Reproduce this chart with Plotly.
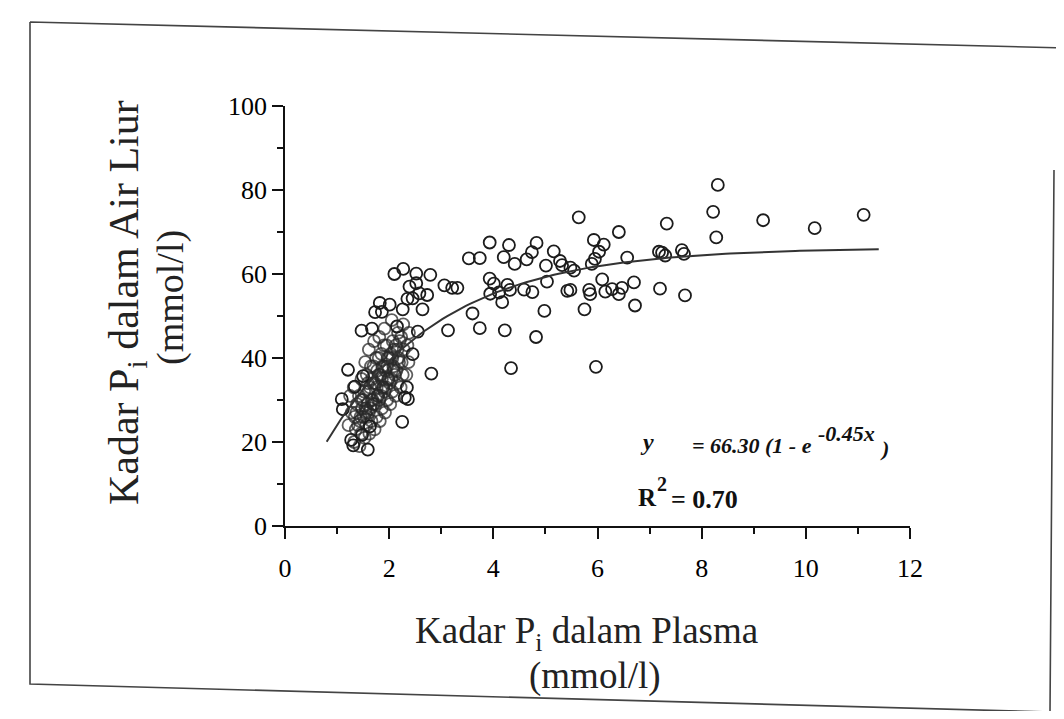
import plotly.graph_objects as go
import math

# ---------------- data ----------------
# individually visible open circles
x_points = [3.93, 4.30, 4.83, 3.53, 3.74, 4.20, 4.41, 4.64, 4.74, 5.16, 5.01, 5.28,
            2.79, 3.06, 3.21, 3.31, 3.93, 4.01, 3.94, 4.11, 4.17, 4.27, 4.32, 4.59,
            4.75, 5.03, 5.42, 2.73, 3.60, 3.13, 3.74, 4.22, 4.82, 4.98, 2.81, 4.34,
            5.64, 6.41, 7.33, 5.93, 6.12, 6.03, 5.95, 5.89, 5.32, 5.48, 5.55, 6.57,
            7.18, 7.24, 7.30, 7.62, 7.66, 6.09, 5.48, 5.84, 5.86, 6.15, 6.28, 6.41,
            6.47, 6.70, 7.20, 7.68, 5.75, 6.72, 5.97,
            8.31, 8.22, 8.28, 9.18, 10.17, 11.11,
            2.10, 2.27, 2.52, 2.39, 2.52, 2.58, 2.64, 2.35, 2.45, 1.82, 2.01, 1.73,
            1.86, 2.26, 1.47, 1.67, 2.15, 2.55, 2.45, 1.21, 1.50, 1.34, 1.09, 1.11,
            2.25, 1.31, 1.59, 2.30, 2.36, 1.63, 1.48, 2.34, 1.27]
y_points = [67.5, 66.9, 67.4, 63.7, 63.8, 64.0, 62.4, 63.5, 65.2, 65.4, 62.0, 63.1,
            59.8, 57.3, 56.7, 56.7, 58.9, 57.7, 55.3, 55.6, 53.3, 57.4, 56.2, 56.3,
            55.7, 58.2, 56.0, 55.0, 50.6, 46.6, 47.1, 46.6, 45.0, 51.2, 36.3, 37.6,
            73.5, 70.0, 72.0, 68.1, 67.0, 65.3, 63.6, 62.4, 62.1, 61.5, 60.8, 63.9,
            65.3, 65.1, 64.4, 65.7, 64.8, 58.7, 56.2, 56.2, 55.2, 55.8, 56.4, 55.2,
            56.7, 58.0, 56.5, 54.9, 51.6, 52.5, 37.9,
            81.2, 74.8, 68.7, 72.8, 70.9, 74.1,
            60.0, 61.2, 60.1, 57.0, 57.8, 55.4, 51.6, 54.1, 54.2, 53.1, 52.7, 50.9,
            51.0, 51.6, 46.5, 47.0, 47.5, 46.3, 40.9, 37.2, 35.7, 33.2, 30.2, 27.8,
            24.8, 19.2, 18.2, 30.6, 30.2, 23.7, 21.7, 33.0, 20.5]

# densely overlapping circles (dark mass at low plasma values)
x_dense = [1.22, 1.28, 1.25,
           1.33, 1.36, 1.34, 1.38, 1.32,
           1.43, 1.46, 1.44, 1.48, 1.42, 1.47,
           1.53, 1.56, 1.55, 1.58, 1.52, 1.57, 1.54,
           1.62, 1.66, 1.64, 1.68, 1.63, 1.67, 1.65, 1.61,
           1.72, 1.76, 1.74, 1.78, 1.73, 1.77, 1.75, 1.71,
           1.82, 1.86, 1.84, 1.88, 1.83, 1.87, 1.85, 1.81,
           1.92, 1.96, 1.94, 1.98, 1.93, 1.97, 1.95, 1.91,
           2.02, 2.06, 2.04, 2.08, 2.03, 2.07, 2.05,
           2.12, 2.16, 2.14, 2.18, 2.13, 2.17,
           2.22, 2.26, 2.24, 2.28, 2.23, 2.27,
           2.33, 2.37, 2.35, 2.38,
           1.50, 1.60, 1.70, 1.80, 1.90, 2.00, 2.10, 2.20,
           1.58, 1.69, 1.79, 1.89, 1.99, 2.09, 2.19,
           1.45, 1.55, 1.66, 1.76, 1.86, 1.96, 2.06, 2.16,
           1.40, 1.51, 1.61, 1.71, 1.81, 1.91, 2.01, 2.11,
           1.37, 1.47, 1.59, 1.70, 1.80, 1.90]
y_dense = [24, 27, 31,
           20, 23, 26, 29, 33,
           19, 22, 25, 28, 31, 35,
           21, 24, 27, 29, 32, 36, 39,
           22, 25, 28, 30, 33, 35, 38, 42,
           23, 26, 29, 31, 34, 37, 40, 44,
           25, 28, 31, 33, 36, 38, 41, 45,
           27, 30, 33, 35, 37, 40, 43, 47,
           29, 32, 35, 38, 41, 44, 49,
           31, 34, 37, 40, 43, 46,
           33, 36, 39, 42, 45, 48,
           36, 39, 43, 46,
           30, 32, 34, 36, 38, 40, 42, 44,
           26, 29, 31, 33, 35, 37, 39,
           26, 28, 30, 33, 35, 38, 40, 42,
           24, 26, 27, 29, 30, 32, 34, 36,
           27, 30, 34, 38, 40, 43]

# fitted model shown on the chart: y = 66.30 (1 - e^(-0.45x))
fit_a = 66.30
fit_k = 0.45
fit_x_start = 0.8
fit_x_end = 11.4

x_ticks = [0, 2, 4, 6, 8, 10, 12]
y_ticks = [0, 20, 40, 60, 80, 100]

# ---------------- figure ----------------
# the page has an 8px body margin; the figure is sized to fit inside the window
OFF = 8
W, H = 1048, 703
L, T = 277, 98
pw, ph = 625, 420
R, B = W - L - pw, H - T - ph


def pxx(p):  # screen pixel x -> paper
    return (p - OFF - L) / pw


def pxy(p):  # screen pixel y -> paper
    return (T + ph - (p - OFF)) / ph


n_fit = 120
fx = [fit_x_start + (fit_x_end - fit_x_start) * i / (n_fit - 1) for i in range(n_fit)]
fy = [fit_a * (1 - math.exp(-fit_k * v)) for v in fx]

fig = go.Figure()
fig.add_trace(go.Scatter(x=x_dense, y=y_dense, mode="markers",
                         marker=dict(symbol="circle-open", size=12, color="rgba(40,40,40,0.75)",
                                     line=dict(width=1.8)),
                         showlegend=False, hoverinfo="skip"))
fig.add_trace(go.Scatter(x=x_points, y=y_points, mode="markers",
                         marker=dict(symbol="circle-open", size=12, color="#1c1c1c",
                                     line=dict(width=1.8)),
                         showlegend=False))
fig.add_trace(go.Scatter(x=fx, y=fy, mode="lines", line=dict(color="#333333", width=2),
                         showlegend=False, hoverinfo="skip"))

serif = "Liberation Serif, Times New Roman, serif"
fig.update_layout(
    width=W, height=H,
    margin=dict(l=L, r=R, t=T, b=B),
    paper_bgcolor="white", plot_bgcolor="white",
    font=dict(family=serif, color="#111111"),
    xaxis=dict(range=[0, 12], tickvals=x_ticks, ticks="outside", ticklen=11, tickwidth=1.8,
               tickcolor="#111", showline=True, linewidth=1.8, linecolor="#111",
               showgrid=False, zeroline=False, ticklabelstandoff=7,
               tickfont=dict(family=serif, size=26, color="#000"),
               minor=dict(dtick=1, ticks="outside", ticklen=6, tickwidth=1.5, tickcolor="#111")),
    yaxis=dict(range=[0, 100], tickvals=y_ticks, ticks="outside", ticklen=11, tickwidth=1.8,
               tickcolor="#111", showline=True, linewidth=1.8, linecolor="#111",
               showgrid=False, zeroline=False,
               tickfont=dict(family=serif, size=26, color="#000"),
               minor=dict(dtick=10, ticks="outside", ticklen=6, tickwidth=1.5, tickcolor="#111")),
)

eq_font = dict(family=serif, size=22, color="#111")
annots = [
    dict(text="Kadar P<sub>i</sub> dalam Air Liur", x=pxx(127), y=pxy(302), textangle=-90,
         font=dict(family=serif, size=42, color="#222")),
    dict(text="(mmol/l)", x=pxx(170), y=pxy(298), textangle=-90,
         font=dict(family=serif, size=38, color="#222")),
    dict(text="Kadar P<sub>i</sub> dalam Plasma", x=pxx(586), y=pxy(633),
         font=dict(family=serif, size=37, color="#222")),
    dict(text="(mmol/l)", x=pxx(595), y=pxy(676),
         font=dict(family=serif, size=37, color="#222")),
    dict(text="<b><i>y</i></b>", x=pxx(638), y=pxy(442), xanchor="left",
         font=dict(family=serif, size=24, color="#111")),
    dict(text="<b><i>= 66.30 (1 - e</i></b>", x=pxx(690), y=pxy(445), xanchor="left", font=eq_font),
    dict(text="<b><i>-0.45x</i></b>", x=pxx(816), y=pxy(433), xanchor="left",
         font=dict(family=serif, size=22, color="#111")),
    dict(text="<b><i>)</i></b>", x=pxx(878), y=pxy(448), xanchor="left", font=eq_font),
    dict(text="<b>R</b>", x=pxx(636), y=pxy(497), xanchor="left",
         font=dict(family=serif, size=25, color="#111")),
    dict(text="<b>2</b>", x=pxx(655), y=pxy(484), xanchor="left",
         font=dict(family=serif, size=20, color="#111")),
    dict(text="<b>= 0.70</b>", x=pxx(669), y=pxy(499), xanchor="left",
         font=dict(family=serif, size=26, color="#111")),
]
for a in annots:
    base = dict(xref="paper", yref="paper", showarrow=False, xanchor="center", yanchor="middle")
    base.update(a)
    fig.add_annotation(**base)

# scanned page frame
frame = (f"M {pxx(30)},{pxy(22)} L {pxx(1066)},{pxy(48)} "
         f"M {pxx(30)},{pxy(22)} L {pxx(30)},{pxy(684)} L {pxx(1050)},{pxy(712)} "
         f"L {pxx(1054)},{pxy(170)}")
fig.add_shape(type="path", path=frame, xref="paper", yref="paper",
              line=dict(color="#444444", width=1.6))

fig.write_html("out.html")
